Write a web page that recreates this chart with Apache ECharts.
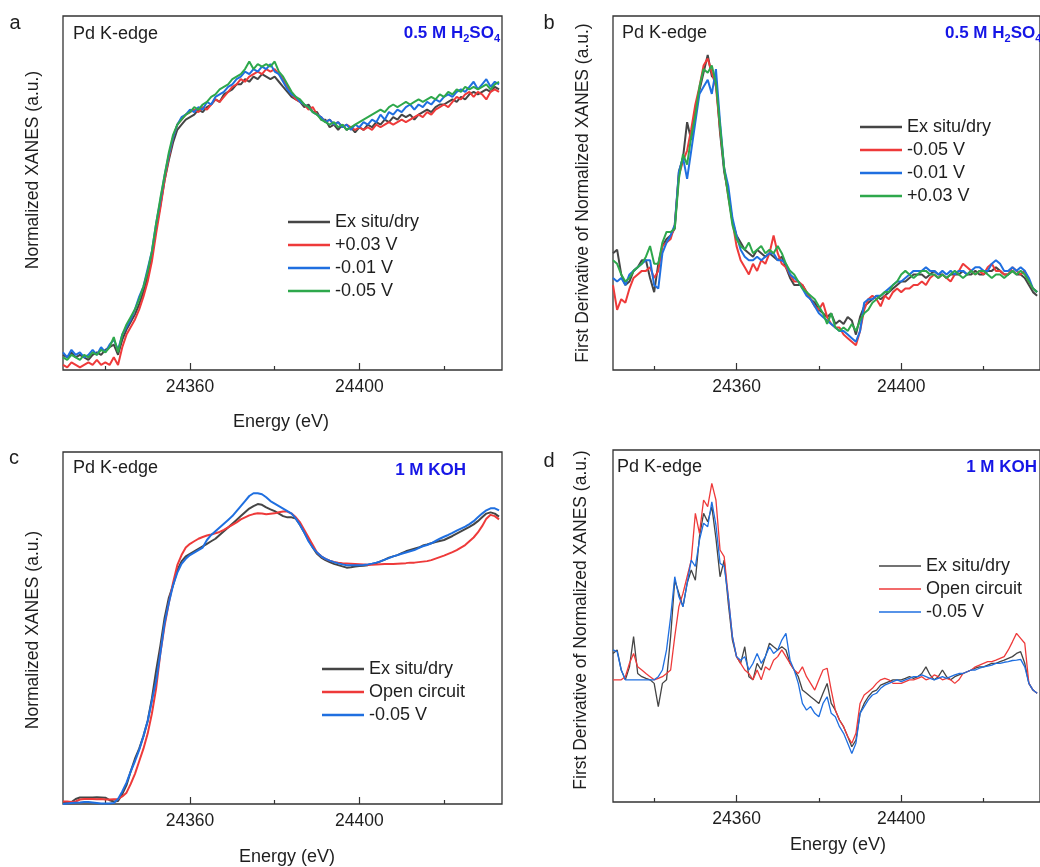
<!DOCTYPE html>
<html>
<head>
<meta charset="utf-8">
<script src="https://cdn.jsdelivr.net/npm/echarts@6/dist/echarts.min.js"></script>
<style>
html,body{margin:0;padding:0;background:#fff;}
#chart{width:1040px;height:867px;}
</style>
</head>
<body>
<div id="chart"></div>
<script>
// ---------- DATA ----------
const energy = [24330,24331,24332,24333,24334,24335,24336,24337,24338,24339,24340,24341,24342,24343,24344,24345,24346,24347,24348,24349,24350,24351,24352,24353,24354,24355,24356,24357,24358,24359,24360,24361,24362,24363,24364,24365,24366,24367,24368,24369,24370,24371,24372,24373,24374,24375,24376,24377,24378,24379,24380,24381,24382,24383,24384,24385,24386,24387,24388,24389,24390,24391,24392,24393,24394,24395,24396,24397,24398,24399,24400,24401,24402,24403,24404,24405,24406,24407,24408,24409,24410,24411,24412,24413,24414,24415,24416,24417,24418,24419,24420,24421,24422,24423,24424,24425,24426,24427,24428,24429,24430,24431,24432,24433];

const tickMajor = [24360, 24400];
const tickMinor = [24340, 24380, 24420];

// Panel a: XANES, 0.5 M H2SO4
const aNames = ['Ex situ/dry', '+0.03 V', '-0.01 V', '-0.05 V'];
const aExsitu = [0.06,0.05,0.07,0.05,0.06,0.05,0.04,0.06,0.07,0.06,0.08,0.09,0.10,0.06,
 0.12,0.16,0.19,0.22,0.26,0.31,0.37,0.45,0.56,0.65,0.75,0.83,0.90,0.95,
 0.97,0.99,1.00,1.01,1.03,1.02,1.04,1.05,1.07,1.06,1.09,1.10,1.11,1.13,
 1.13,1.15,1.14,1.16,1.15,1.17,1.16,1.15,1.16,1.14,1.12,1.10,1.08,1.07,
 1.06,1.04,1.05,1.02,1.02,0.99,0.99,0.96,0.97,0.95,0.97,0.95,0.96,0.94,
 0.96,0.95,0.97,0.96,0.98,0.97,0.99,0.98,1.00,0.99,1.01,1.00,1.01,0.99,
 1.01,1.02,1.03,1.02,1.04,1.05,1.05,1.06,1.07,1.06,1.08,1.07,1.09,1.10,
 1.09,1.10,1.11,1.10,1.12,1.11];
const aP003 = [0.02,0.01,0.03,0.02,0.01,0.02,0.03,0.02,0.04,0.02,0.03,0.02,0.05,0.02,
 0.09,0.14,0.17,0.20,0.24,0.29,0.35,0.43,0.54,0.64,0.75,0.84,0.92,0.97,
 0.99,1.01,1.02,1.03,1.02,1.04,1.03,1.05,1.07,1.06,1.08,1.10,1.12,1.13,
 1.15,1.14,1.16,1.17,1.18,1.17,1.19,1.18,1.19,1.17,1.15,1.12,1.09,1.07,
 1.06,1.05,1.03,1.04,1.01,1.00,0.98,0.99,0.97,0.98,0.96,0.97,0.96,0.95,
 0.96,0.95,0.96,0.95,0.97,0.96,0.97,0.98,0.97,0.98,0.99,0.98,0.99,1.00,
 1.01,1.00,1.02,1.01,1.03,1.04,1.05,1.04,1.06,1.08,1.07,1.09,1.10,1.08,
 1.10,1.09,1.07,1.10,1.11,1.10];
const aM001 = [0.07,0.05,0.08,0.06,0.07,0.05,0.06,0.08,0.06,0.09,0.07,0.10,0.12,0.08,
 0.14,0.17,0.20,0.24,0.29,0.33,0.40,0.47,0.58,0.67,0.77,0.85,0.92,0.97,
 1.00,1.01,1.03,1.02,1.04,1.03,1.06,1.05,1.08,1.09,1.10,1.12,1.13,1.15,
 1.16,1.18,1.17,1.19,1.18,1.20,1.19,1.21,1.18,1.17,1.14,1.11,1.09,1.08,
 1.06,1.05,1.04,1.02,1.01,1.00,0.98,0.99,0.97,0.98,0.96,0.97,0.95,0.97,
 0.96,0.98,0.97,0.99,0.98,1.01,0.99,1.02,1.01,1.03,1.02,1.04,1.05,1.03,
 1.05,1.04,1.06,1.05,1.07,1.06,1.08,1.09,1.08,1.10,1.11,1.10,1.12,1.14,
 1.11,1.13,1.15,1.12,1.14,1.13];
const aM005 = [0.05,0.04,0.06,0.05,0.04,0.06,0.05,0.07,0.06,0.08,0.07,0.09,0.13,0.07,
 0.14,0.18,0.21,0.24,0.28,0.33,0.39,0.47,0.58,0.68,0.77,0.86,0.93,0.97,
 0.99,1.01,1.02,1.04,1.03,1.05,1.06,1.08,1.09,1.11,1.12,1.13,1.15,1.16,
 1.17,1.19,1.22,1.19,1.21,1.20,1.21,1.20,1.22,1.18,1.16,1.13,1.10,1.08,
 1.07,1.05,1.04,1.02,1.01,0.99,0.98,0.97,0.98,0.96,0.97,0.95,0.96,0.97,
 0.98,0.99,1.00,1.01,1.02,1.03,1.02,1.04,1.05,1.04,1.05,1.06,1.05,1.06,
 1.07,1.06,1.07,1.08,1.07,1.09,1.08,1.10,1.09,1.11,1.10,1.12,1.11,1.12,
 1.11,1.12,1.13,1.11,1.13,1.14];

// Panel b: first derivative, 0.5 M H2SO4
const bNames = ['Ex situ/dry', '-0.05 V', '-0.01 V', '+0.03 V'];
const bExsitu = [33,34,27,24,25,28,29,31,31,26,22,30,35,37,
 38,40,56,60,70,65,74,79,84,89,83,82,67,56,
 50,42,38,36,34,33,32,34,33,32,33,32,31,32,
 29,26,24,24,24,22,20,19,17,16,15,16,13,14,
 13,15,14,10,15,18,19,20,21,20,21,22,23,24,
 25,25,26,27,27,27,26,27,28,27,27,26,27,27,
 27,28,27,27,28,27,27,28,28,29,28,27,27,28,
 27,27,26,24,22,21];
const bM005 = [24,17,20,19,23,26,27,28,28,29,26,28,35,36,
 37,41,55,59,62,68,75,80,86,88,84,80,68,57,
 49,42,35,31,29,27,30,28,31,30,33,38,33,30,
 29,27,25,25,24,22,20,18,17,19,15,13,12,12,
 10,9,8,7,11,17,20,21,20,18,21,20,22,23,
 22,23,23,24,24,25,24,26,27,26,27,26,25,27,
 28,30,29,28,27,28,27,29,30,28,28,27,27,29,
 28,27,28,25,23,22];
const bM001 = [26,25,26,24,27,28,29,30,31,31,24,23,33,36,
 38,41,56,60,54,62,70,78,80,82,78,85,70,57,
 52,43,38,34,32,31,31,32,31,32,33,33,31,31,
 30,27,26,25,23,21,20,18,16,15,14,13,12,11,
 11,10,9,8,11,19,20,20,21,21,22,23,24,25,
 25,26,27,28,28,28,29,28,28,27,28,27,28,27,
 28,28,27,28,29,29,28,28,30,31,30,28,28,29,
 28,29,28,26,23,22];
const bP003 = [31,30,27,25,26,28,29,30,32,35,30,30,36,39,
 39,40,54,61,58,66,72,80,85,84,86,81,69,57,
 49,41,37,35,34,36,33,34,35,33,34,33,35,33,
 30,28,27,25,23,22,21,20,18,16,13,16,12,11,
 12,11,13,11,14,16,17,19,20,21,22,22,24,25,
 27,28,27,26,27,28,28,27,27,26,27,26,27,28,
 27,26,27,28,27,28,28,27,26,27,27,26,27,28,
 27,28,27,25,23,22];

// Panel c: XANES, 1 M KOH
const cNames = ['Ex situ/dry', 'Open circuit', '-0.05 V'];
const cExsitu = [0.005,0.005,0.008,0.02,0.026,0.026,0.026,0.026,0.027,0.026,0.025,0.015,0.01,0.012,
 0.04,0.075,0.13,0.18,0.22,0.27,0.33,0.42,0.53,0.63,0.74,0.82,0.87,0.93,
 0.965,0.985,0.995,1.005,1.015,1.025,1.035,1.045,1.055,1.07,1.085,1.10,1.115,1.13,
 1.145,1.16,1.175,1.185,1.193,1.19,1.18,1.172,1.165,1.155,1.145,1.14,1.14,1.135,
 1.11,1.08,1.05,1.02,0.995,0.98,0.97,0.962,0.955,0.95,0.945,0.94,0.942,0.945,
 0.947,0.948,0.95,0.955,0.958,0.965,0.972,0.98,0.985,0.99,0.998,1.005,1.01,1.015,
 1.02,1.028,1.032,1.037,1.042,1.046,1.05,1.058,1.066,1.075,1.084,1.093,1.102,1.112,
 1.125,1.14,1.155,1.16,1.155,1.143];
const cOpen = [0.01,0.01,0.008,0.01,0.018,0.02,0.02,0.02,0.019,0.02,0.018,0.018,0.019,0.02,
 0.03,0.045,0.08,0.12,0.17,0.22,0.28,0.36,0.46,0.60,0.71,0.80,0.88,0.95,
 0.99,1.02,1.035,1.045,1.055,1.062,1.068,1.072,1.077,1.082,1.09,1.10,1.11,1.12,
 1.132,1.14,1.148,1.153,1.156,1.155,1.152,1.154,1.156,1.16,1.163,1.163,1.155,1.14,
 1.12,1.09,1.06,1.03,1.00,0.985,0.975,0.968,0.963,0.96,0.958,0.957,0.956,0.955,
 0.954,0.953,0.952,0.952,0.953,0.954,0.955,0.955,0.955,0.956,0.957,0.958,0.96,0.96,
 0.962,0.964,0.966,0.97,0.976,0.982,0.988,0.995,1.002,1.01,1.02,1.03,1.045,1.06,
 1.08,1.105,1.135,1.15,1.145,1.132];
const cM005 = [0.0,0.002,0.004,0.005,0.006,0.008,0.008,0.006,0.004,0.002,0.002,0.002,0.004,0.02,
 0.05,0.085,0.13,0.17,0.215,0.27,0.33,0.41,0.49,0.60,0.72,0.80,0.87,0.92,
 0.955,0.975,0.99,1.0,1.01,1.02,1.05,1.07,1.085,1.10,1.115,1.13,1.145,1.165,
 1.185,1.205,1.225,1.236,1.236,1.232,1.22,1.205,1.195,1.185,1.175,1.165,1.155,1.135,
 1.11,1.08,1.045,1.02,1.0,0.985,0.975,0.968,0.962,0.957,0.953,0.95,0.95,0.95,
 0.95,0.951,0.953,0.956,0.96,0.965,0.972,0.978,0.985,0.99,0.995,1.0,1.005,1.01,
 1.018,1.025,1.03,1.037,1.046,1.055,1.063,1.07,1.078,1.087,1.095,1.103,1.113,1.125,
 1.14,1.155,1.168,1.176,1.176,1.168];

// Panel d: first derivative, 1 M KOH
const dNames = ['Ex situ/dry', 'Open circuit', '-0.05 V'];
const dExsitu = [42.2,43.2,37.5,34.7,38.4,47.0,36.5,35.6,35.1,34.7,33.7,27.1,33.7,34.7,
 47.0,63.0,59.3,55.5,62.1,65.9,63.0,75.4,82.0,79.6,83.9,74.9,64.0,68.7,
 56.4,46.0,41.3,39.4,44.1,35.6,34.7,39.4,37.5,41.3,45.1,44.1,43.2,44.1,
 43.2,39.4,37.5,35.6,31.8,30.9,29.9,29.0,28.0,30.9,33.7,28.0,26.1,23.3,
 21.4,18.6,15.7,17.6,25.2,28.0,29.9,31.3,31.8,33.2,33.7,34.2,34.7,34.7,
 34.7,35.1,35.6,35.1,35.6,36.5,38.4,36.1,34.7,35.6,37.5,35.6,34.7,35.6,
 36.1,36.5,37.0,37.5,38.0,38.4,38.4,38.9,39.4,39.4,39.9,40.3,40.8,41.3,
 42.2,42.7,39.4,33.7,31.8,30.9];
const dOpen = [34.7,34.7,34.7,35.6,39.4,42.2,38.4,37.5,36.5,35.6,34.7,35.1,35.6,36.5,
 37.5,47.0,55.5,59.3,64.0,68.7,82.0,76.3,85.8,83.9,90.5,85.8,71.6,69.7,
 58.3,47.0,41.3,39.4,37.5,36.5,34.7,37.5,34.7,38.4,37.5,40.3,41.3,43.2,
 41.3,39.4,37.5,36.5,38.4,35.6,33.7,31.8,34.7,37.5,38.0,31.8,26.1,23.3,
 21.4,18.6,16.7,19.5,28.0,30.4,31.3,32.3,33.7,34.7,35.1,34.7,33.7,33.7,
 33.7,34.2,34.7,34.7,35.1,35.6,34.7,35.1,36.1,35.6,34.7,35.1,34.7,33.7,
 34.7,36.5,37.0,37.5,38.4,38.9,39.4,39.9,39.9,40.3,40.8,41.3,43.2,45.5,
 47.9,46.5,45.1,33.7,31.8,30.9];
const dM005 = [43.2,42.7,37.5,34.7,34.7,34.7,34.7,34.7,34.7,34.7,34.7,35.6,37.5,43.2,
 52.6,64.0,58.3,55.5,62.1,68.7,66.9,74.4,79.2,78.2,85.3,78.7,67.8,66.9,
 58.3,47.0,41.3,40.3,41.3,37.5,39.4,42.2,39.4,41.3,44.1,42.2,43.2,46.0,
 47.9,40.3,37.5,33.7,28.0,26.1,27.1,25.2,24.2,28.0,29.9,25.2,24.2,21.4,
 19.5,16.7,13.8,16.7,25.2,27.1,29.0,30.4,30.9,32.3,33.2,33.7,34.2,34.7,
 34.2,34.7,35.1,35.6,35.6,36.1,35.6,35.1,34.7,35.1,35.6,35.1,35.6,36.1,
 36.5,36.5,37.0,37.5,37.5,38.0,38.4,38.6,38.9,39.4,39.4,39.7,39.9,40.2,
 40.3,40.5,38.4,33.7,31.8,30.9];

// ---------- STYLE ----------
const FONT = '"Liberation Sans", Arial, sans-serif';
const C = {k:'#454545', r:'#ee3a3a', b:'#1f6fe0', g:'#2ea84c'};
const TXT = '#1e1e1e';
const BLUE = '#1616e6';

const grids = [
  {left:63,  top:16,  width:439, height:354},
  {left:613, top:16,  width:439, height:354},
  {left:63,  top:452, width:439, height:352},
  {left:613, top:450, width:439, height:352}
];
const yR = [[0,1.4],[0,100],[0,1.4],[0,100]];

const xAxes = [], yAxes = [];
grids.forEach((g,i)=>{
  xAxes.push({
    type:'value', gridIndex:i, min:24330, max:24433.7,
    axisLine:{show:false}, splitLine:{show:false},
    axisTick:{show:true, inside:true, length:7, customValues:tickMajor, lineStyle:{color:'#333', width:1.2}},
    axisLabel:{show:true, customValues:tickMajor, fontSize:17.5, fontFamily:FONT, color:TXT, margin:8,
      formatter: v => String(v)}
  });
  xAxes.push({
    type:'value', gridIndex:i, min:24330, max:24433.7, position:'bottom',
    axisLine:{show:false}, splitLine:{show:false},
    axisTick:{show:true, inside:true, length:4, customValues:tickMinor, lineStyle:{color:'#333', width:1.2}},
    axisLabel:{show:false}
  });
  yAxes.push({
    type:'value', gridIndex:i, min:yR[i][0], max:yR[i][1],
    axisLine:{show:false}, axisTick:{show:false}, axisLabel:{show:false}, splitLine:{show:false}
  });
});

function pair(arr){ return energy.map((e,j)=>[e, arr[j]]); }
const series = [];
function addSeries(panel, name, arr, color, w){
  series.push({
    type:'line', name: panel+'|'+name, xAxisIndex: panel*2, yAxisIndex: panel,
    data: pair(arr), showSymbol:false, symbol:'none', animation:false,
    lineStyle:{color:color, width:w}, itemStyle:{color:color}
  });
}
addSeries(0, aNames[0], aExsitu, C.k, 2);
addSeries(0, aNames[1], aP003, C.r, 2);
addSeries(0, aNames[2], aM001, C.b, 2);
addSeries(0, aNames[3], aM005, C.g, 2);
addSeries(1, bNames[0], bExsitu, C.k, 2);
addSeries(1, bNames[1], bM005, C.r, 2);
addSeries(1, bNames[2], bM001, C.b, 2);
addSeries(1, bNames[3], bP003, C.g, 2);
addSeries(2, cNames[0], cExsitu, C.k, 2);
addSeries(2, cNames[1], cOpen, C.r, 2);
addSeries(2, cNames[2], cM005, C.b, 2);
addSeries(3, dNames[0], dExsitu, C.k, 1.3);
addSeries(3, dNames[1], dOpen, C.r, 1.3);
addSeries(3, dNames[2], dM005, C.b, 1.3);

function legend(panel, names, left, top, ih){
  return {
    orient:'vertical', left:left, top:top, selectedMode:false,
    data: names.map(n=>panel+'|'+n),
    icon:'rect', itemWidth:42, itemHeight:ih, itemGap:5, padding:0,
    formatter: n => n.split('|')[1],
    textStyle:{fontSize:18, fontFamily:FONT, color:TXT, lineHeight:18}
  };
}

function txt(text, x, y, opt){
  opt = opt || {};
  return {
    type:'text', x:x, y:y, rotation: opt.rot || 0, z:100,
    style:{text:text, fontSize:opt.size || 18, fontFamily:FONT, fontWeight: opt.bold ? 'bold':'normal',
      fill: opt.color || TXT, align: opt.align || 'left', verticalAlign:'middle'}
  };
}
function h2so4(x, y, align){
  return {
    type:'text', x:x, y:y, z:100,
    style:{
      text:'{b|0.5 M H}{s|2}{b|SO}{s|4}', align:align, verticalAlign:'middle',
      rich:{
        b:{fontSize:17, fontWeight:'bold', fontFamily:FONT, fill:BLUE, lineHeight:22},
        s:{fontSize:11, fontWeight:'bold', fontFamily:FONT, fill:BLUE, lineHeight:22, verticalAlign:'bottom'}
      }
    }
  };
}

const graphic = [
  txt('a', 15, 23, {size:20, align:'center'}),
  txt('b', 549, 23, {size:20, align:'center'}),
  txt('c', 14, 458, {size:20, align:'center'}),
  txt('d', 549, 461, {size:20, align:'center'}),
  txt('Pd K-edge', 73, 34),
  txt('Pd K-edge', 622, 33),
  txt('Pd K-edge', 73, 468),
  txt('Pd K-edge', 617, 467),
  h2so4(500, 33, 'right'),
  h2so4(945, 33, 'left'),
  txt('1 M KOH', 466, 470, {bold:true, color:BLUE, size:17, align:'right'}),
  txt('1 M KOH', 1037, 467, {bold:true, color:BLUE, size:17, align:'right'}),
  txt('Normalized XANES (a.u.)', 33, 170, {rot:Math.PI/2, align:'center', size:17.5}),
  txt('Normalized XANES (a.u.)', 33, 630, {rot:Math.PI/2, align:'center', size:17.5}),
  txt('First Derivative of Normalized XANES (a.u.)', 583, 193, {rot:Math.PI/2, align:'center', size:17.5}),
  txt('First Derivative of Normalized XANES (a.u.)', 581, 620, {rot:Math.PI/2, align:'center', size:17.5}),
  txt('Energy (eV)', 281, 422, {align:'center'}),
  txt('Energy (eV)', 287, 857, {align:'center'}),
  txt('Energy (eV)', 838, 845, {align:'center'})
];

const chart = echarts.init(document.getElementById('chart'), null, {renderer:'canvas', width:1040, height:867});
chart.setOption({
  backgroundColor:'#fff',
  animation:false,
  grid: grids.map(g=>Object.assign({show:true, borderColor:'#333', borderWidth:1.3, backgroundColor:'transparent'}, g)),
  xAxis: xAxes,
  yAxis: yAxes,
  legend: [
    legend(0, aNames, 288, 213, 2.5),
    legend(1, bNames, 860, 118, 2.5),
    legend(2, cNames, 322, 660, 2.5),
    legend(3, dNames, 879, 557, 1.5)
  ],
  series: series,
  graphic: graphic
});
</script>
</body>
</html>
